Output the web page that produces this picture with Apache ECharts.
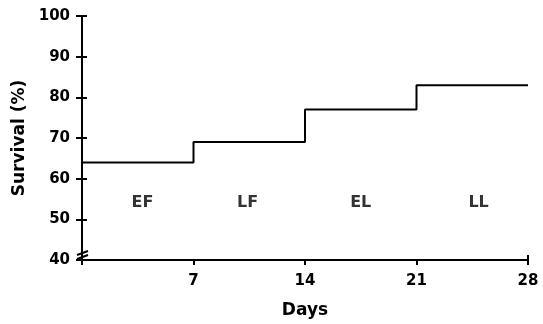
<!DOCTYPE html>
<html>
<head>
<meta charset="utf-8">
<script src="https://cdn.jsdelivr.net/npm/echarts@6/dist/echarts.min.js"></script>
<style>
  html, body { margin: 0; padding: 0; background: #fff; }
  #main { width: 543px; height: 324px; }
</style>
</head>
<body>
<div id="main"></div>
<script>
// 数据
var days = [0, 7, 14, 21, 28];
var survival = [64, 69, 77, 83, 83];
var groups = ['EF', 'LF', 'EL', 'LL'];
var groupDays = [3.8, 10.4, 17.5, 24.9];
var groupLevel = 54;
var yTicks = [40, 50, 60, 70, 80, 90, 100];

var font = 'DejaVu Sans';
var myChart = echarts.init(document.getElementById('main'));

var stepData = [];
for (var i = 0; i < days.length; i++) {
  stepData.push([days[i], survival[i]]);
}
var labelData = [];
for (var j = 0; j < groups.length; j++) {
  labelData.push({ value: [groupDays[j], groupLevel], name: groups[j] });
}

myChart.setOption({
  animation: false,
  grid: { left: 82, right: 15, top: 16, bottom: 64 },
  xAxis: [{
    type: 'value', min: 0, max: 28, interval: 7,
    name: 'Days', nameLocation: 'middle', nameGap: 42,
    nameTextStyle: { fontFamily: font, fontSize: 17, fontWeight: 'bold', color: '#000' },
    axisLine: { lineStyle: { color: '#000', width: 2 } },
    axisTick: { length: 5, lineStyle: { color: '#000', width: 2 } },
    axisLabel: {
      fontFamily: font, fontSize: 15, fontWeight: 'bold', color: '#000', margin: 14,
      formatter: function (v) { return v === 0 ? '' : v; }
    },
    splitLine: { show: false }
  }, {
    type: 'value', min: 0, max: 28, position: 'bottom',
    axisLine: { show: false },
    axisTick: { inside: true, length: 5, customValues: [28], lineStyle: { color: '#000', width: 2 } },
    axisLabel: { show: false },
    splitLine: { show: false }
  }],
  yAxis: [{
    type: 'value', min: 40, max: 100, interval: 10,
    name: 'Survival (%)', nameLocation: 'middle', nameGap: 54, nameRotate: 90,
    nameTextStyle: { fontFamily: font, fontSize: 17, fontWeight: 'bold', color: '#000' },
    axisLine: { show: true, lineStyle: { color: '#000', width: 2 } },
    axisTick: { show: true, length: 6, lineStyle: { color: '#000', width: 2 } },
    axisLabel: { fontFamily: font, fontSize: 15, fontWeight: 'bold', color: '#000', margin: 12 },
    splitLine: { show: false }
  }, {
    type: 'value', min: 40, max: 100, interval: 10, position: 'left',
    axisLine: { show: false },
    axisTick: { show: true, inside: true, length: 5, customValues: yTicks.slice(1), lineStyle: { color: '#000', width: 2 } },
    axisLabel: { show: false },
    splitLine: { show: false }
  }],
  series: [{
    type: 'line',
    step: 'end',
    data: stepData,
    symbol: 'none',
    lineStyle: { color: '#000', width: 2 }
  }, {
    type: 'scatter',
    data: labelData,
    symbolSize: 0,
    label: {
      show: true, position: 'inside', formatter: '{b}',
      fontFamily: font, fontSize: 16, fontWeight: 'bold', color: '#000'
    }
  }]
});

// 轴断开标记
var p = myChart.convertToPixel({ xAxisIndex: 0, yAxisIndex: 0 }, [0, 40]);
myChart.setOption({
  graphic: [{
    type: 'polyline', shape: { points: [[p[0] - 5, p[1] - 5], [p[0] + 6, p[1] - 9]] },
    style: { stroke: '#000', lineWidth: 2, fill: null }
  }, {
    type: 'polyline', shape: { points: [[p[0] - 5, p[1] - 1], [p[0] + 6, p[1] - 5]] },
    style: { stroke: '#000', lineWidth: 2, fill: null }
  }]
});
</script>
</body>
</html>
